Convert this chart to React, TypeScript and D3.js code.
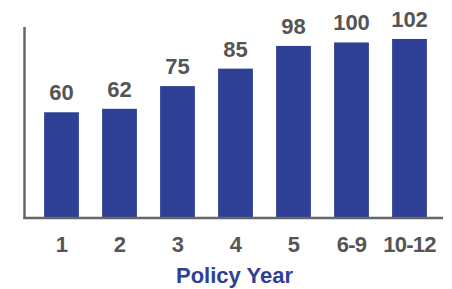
import React, { useEffect, useRef } from 'react';
import * as d3 from 'd3';

const years = ['1', '2', '3', '4', '5', '6-9', '10-12'];
const values = [60, 62, 75, 85, 98, 100, 102];
const axisTitle = 'Policy Year';

const width = 452;
const height = 289;
const barColor = '#2e4096';
const textGray = '#555555';

export default function App() {
  const ref = useRef<SVGSVGElement>(null);

  useEffect(() => {
    const svg = d3.select(ref.current);
    svg.selectAll('*').remove();

    const x = d3
      .scaleBand<string>()
      .domain(years)
      .range([32.5, 438.5])
      .paddingInner(0.4)
      .paddingOuter(0.2);

    const y = d3.scaleLinear().domain([0, 110]).range([217, 25]);

    const data = years.map((year, i) => ({ year, value: values[i] }));

    // bars
    svg
      .append('g')
      .selectAll('rect')
      .data(data)
      .enter()
      .append('rect')
      .attr('x', d => x(d.year)!)
      .attr('y', d => y(d.value))
      .attr('width', x.bandwidth())
      .attr('height', d => y(0) - y(d.value))
      .attr('fill', barColor);

    // value labels
    svg
      .append('g')
      .selectAll('text')
      .data(data)
      .enter()
      .append('text')
      .attr('x', d => x(d.year)! + x.bandwidth() / 2)
      .attr('y', d => y(d.value) - 12)
      .attr('text-anchor', 'middle')
      .style('font-family', '"Liberation Sans", Arial, sans-serif')
      .style('font-weight', 'bold')
      .style('font-size', '22px')
      .attr('fill', textGray)
      .text(d => d.value);

    // axes lines
    svg
      .append('line')
      .attr('x1', 24.5)
      .attr('x2', 24.5)
      .attr('y1', 27)
      .attr('y2', 219)
      .attr('stroke', '#666')
      .attr('stroke-width', 2.5);

    svg
      .append('line')
      .attr('x1', 23.5)
      .attr('x2', 443)
      .attr('y1', 218)
      .attr('y2', 218)
      .attr('stroke', '#666')
      .attr('stroke-width', 2.5);

    // tick labels
    svg
      .append('g')
      .selectAll('text')
      .data(years)
      .enter()
      .append('text')
      .attr('x', d => x(d)! + x.bandwidth() / 2)
      .attr('y', 252)
      .attr('text-anchor', 'middle')
      .style('font-family', '"Liberation Sans", Arial, sans-serif')
      .style('font-weight', 'bold')
      .style('font-size', '22px')
      .style('letter-spacing', '-0.8px')
      .attr('fill', textGray)
      .text(d => d);

    svg
      .append('text')
      .attr('x', 234.5)
      .attr('y', 283)
      .attr('text-anchor', 'middle')
      .style('font-family', '"Liberation Sans", Arial, sans-serif')
      .style('font-weight', 'bold')
      .style('font-size', '22px')
      .attr('fill', barColor)
      .text(axisTitle);
  }, []);

  return (
    <svg
      ref={ref}
      width={width}
      height={height}
      style={{ position: 'absolute', left: 0, top: 0, background: '#fff' }}
    />
  );
}
